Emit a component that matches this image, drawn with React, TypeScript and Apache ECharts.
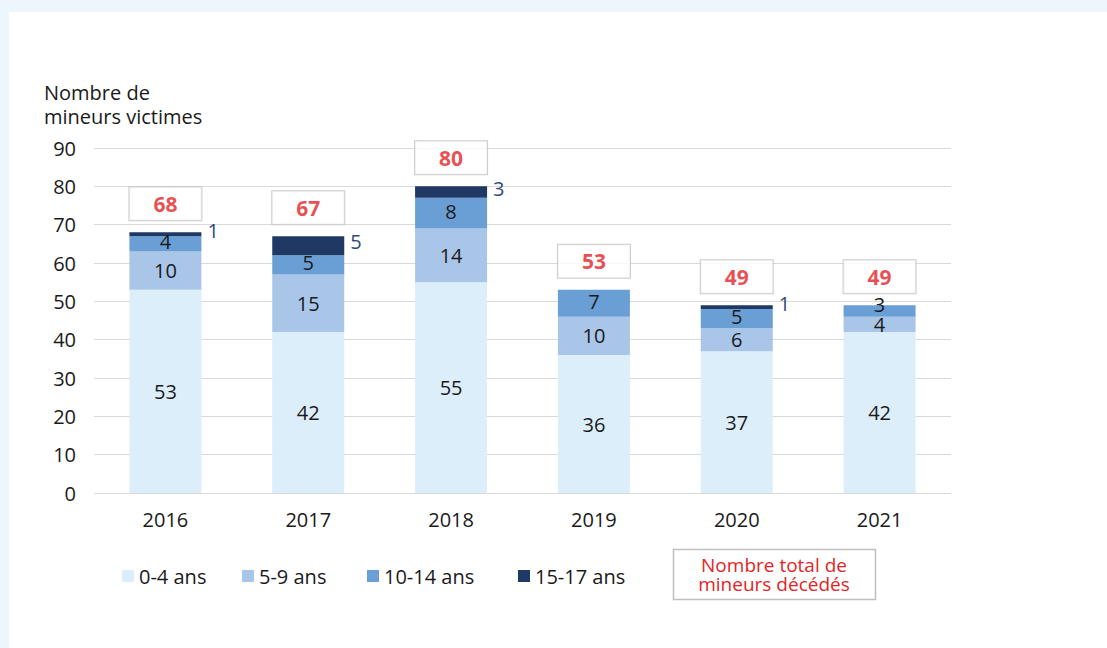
import React, { useEffect, useRef } from "react";
import * as echarts from "echarts";

const years = ["2016", "2017", "2018", "2019", "2020", "2021"];
const age0to4 = [53, 42, 55, 36, 37, 42];
const age5to9 = [10, 15, 14, 10, 6, 4];
const age10to14 = [4, 5, 8, 7, 5, 3];
const age15to17 = [1, 5, 3, 0, 1, 0];
const totals = [68, 67, 80, 53, 49, 49];
const seriesNames = ["0-4 ans", "5-9 ans", "10-14 ans", "15-17 ans"];
const colors = ["#ddeefb", "#a9c6e9", "#6a9fd6", "#203864"];
const noteLines = ["Nombre total de", "mineurs décédés"];

const FONT = "'Open Sans', sans-serif";

export default function App() {
  const ref = useRef<HTMLDivElement>(null);
  useEffect(() => {
    if (!ref.current) return;
    const chart = echarts.init(ref.current, undefined, { renderer: "svg" });
    const inside = {
      show: true,
      position: "inside" as const,
      color: "#1a1a1a",
      fontSize: 20,
      lineHeight: 14,
      fontFamily: FONT,
    };
    const seriesData = [age0to4, age5to9, age10to14, age15to17];
    const barSeries = seriesData.map((d, i) => ({
      name: seriesNames[i],
      type: "bar",
      stack: "total",
      barWidth: 72,
      itemStyle: { color: colors[i] },
      data: d.map((v) => {
        if (v === 0) return null;
        if (i === 2 && v <= 3) return { value: v, label: { offset: [0, -6] } };
        return v;
      }),
      label:
        i === 3
          ? { show: true, position: "right", distance: 6, offset: [0, -4], color: "#2f4a7c", fontSize: 20, fontFamily: FONT }
          : i === 2
          ? { ...inside, offset: [0, -2] }
          : inside,
    }));
    const legendLefts = [122, 242, 367, 518];
    chart.setOption({
      animation: false,
      backgroundColor: "#ffffff",
      textStyle: { fontFamily: FONT },
      grid: { left: 94, right: 156, top: 148, bottom: 155 },
      legend: seriesNames.map((n, i) => ({
        data: [n],
        left: legendLefts[i],
        top: 566,
        padding: 0,
        itemWidth: 12,
        itemHeight: 12,
        icon: "rect",
        textStyle: { fontSize: 20, color: "#1a1a1a", fontFamily: FONT },
      })),
      xAxis: {
        type: "category",
        data: years,
        axisTick: { show: false },
        axisLine: { show: false },
        axisLabel: { fontSize: 20, color: "#1a1a1a", margin: 16, fontFamily: FONT },
      },
      yAxis: {
        type: "value",
        min: 0,
        max: 90,
        interval: 10,
        axisLabel: { fontSize: 20, color: "#1a1a1a", margin: 18, fontFamily: FONT },
        splitLine: { lineStyle: { color: "#d9d9d9", width: 1 } },
      },
      series: [
        ...barSeries,
        {
          name: "total",
          type: "scatter",
          symbolSize: 0,
          data: totals,
          z: 10,
          label: {
            show: true,
            position: "top",
            distance: 12,
            formatter: "{c}",
            color: "#e41f26",
            fontWeight: "bold",
            fontSize: 21,
            fontFamily: FONT,
            backgroundColor: "#ffffff",
            borderColor: "#bfbfbf",
            borderWidth: 1,
            width: 72,
            lineHeight: 25,
            padding: [4, 0, 4, 0],
          },
        },
      ],
      graphic: [
        { type: "rect", shape: { x: 0, y: 0, width: 1107, height: 12 }, style: { fill: "#eef6fd" }, silent: true },
        { type: "rect", shape: { x: 0, y: 0, width: 9, height: 648 }, style: { fill: "#eef6fd" }, silent: true },
        {
          type: "text",
          left: 44,
          top: 80,
          style: {
            text: "Nombre de\nmineurs victimes",
            fontSize: 20,
            lineHeight: 24,
            fill: "#1a1a1a",
            fontFamily: FONT,
          },
        },
        {
          type: "rect",
          shape: { x: 673.5, y: 549.5, width: 202, height: 50 },
          style: { fill: "#ffffff", stroke: "#bfbfbf", lineWidth: 1.5 },
        },
        ...noteLines.map((t, i) => ({
          type: "text",
          x: 774,
          y: 565 + i * 19,
          style: {
            text: t,
            fontSize: 19,
            lineHeight: 16,
            fill: "#e41f26",
            align: "center",
            verticalAlign: "middle",
            fontFamily: FONT,
          },
        })),
      ],
    });
    return () => chart.dispose();
  }, []);
  return (
    <div
      ref={ref}
      style={{ position: "absolute", left: 0, top: 0, width: 1107, height: 648 }}
    />
  );
}
